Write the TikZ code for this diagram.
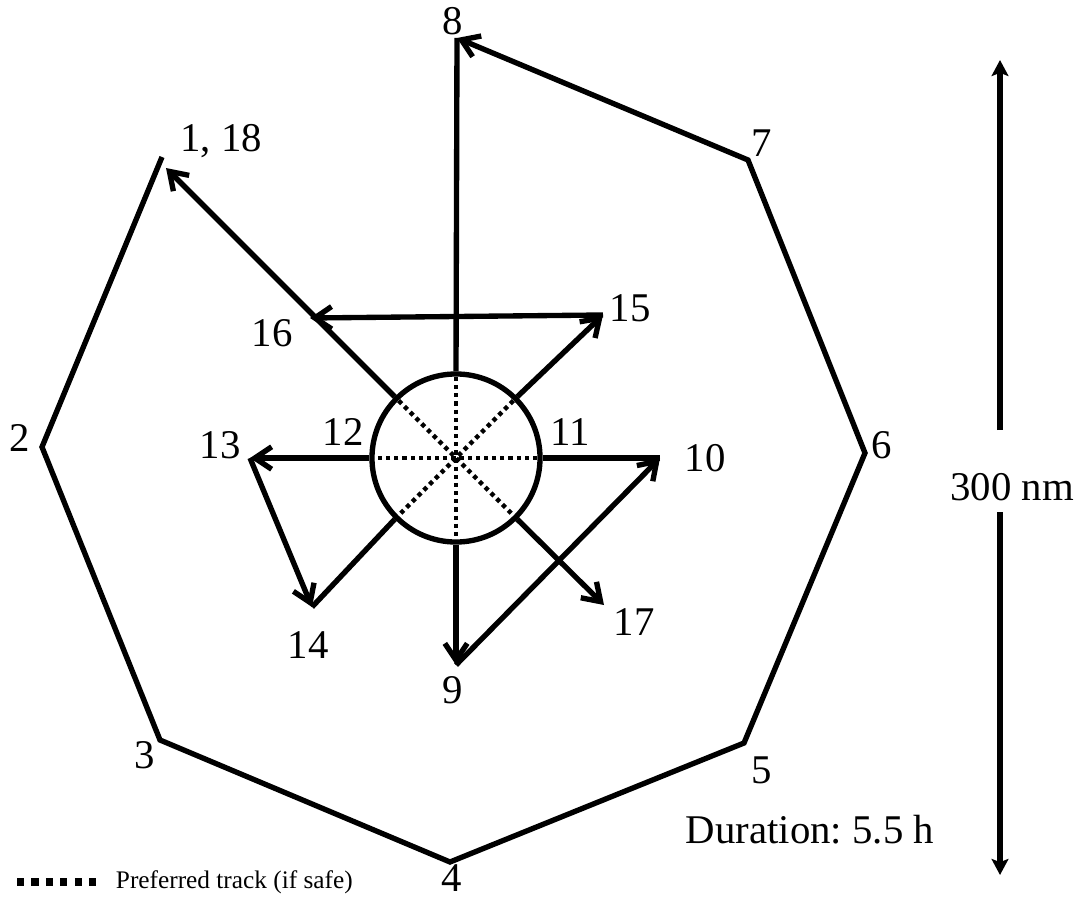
\documentclass[tikz,border=0pt]{standalone}
\usepackage{fontspec}
\setmainfont{Liberation Serif}
\usetikzlibrary{positioning, arrows.meta}

\tikzset{
  track/.style={line width=3.8pt, line cap=butt, line join=miter},
  safetrack/.style={line width=3.2pt, dash pattern=on 3pt off 2.8pt},
  wpt/.style={font=\fontsize{29}{34}\selectfont, inner sep=0pt},
  scalebar/.style={line width=3.8pt, -{Stealth[length=4mm, width=4.2mm, inset=0.8mm]}},
  >={Straight Barb[length=4.2mm, width=5.6mm]}
}

\begin{document}
\frenchspacing
\begin{tikzpicture}[x=0.025cm, y=-0.025cm]
        \useasboundingbox (0,0) rectangle (1079,900);
        % Waypoints of the outer octagon
        \coordinate (p1) at (162,157);
        \coordinate (p2) at (42,447);
        \coordinate (p3) at (160,740);
        \coordinate (p4) at (450,862);
        \coordinate (p5) at (744,743);
        \coordinate (p6) at (865,453);
        \coordinate (p7) at (748,160);
        \coordinate (p8) at (457,38);
        % Waypoints of the inner star
        \coordinate (p9) at (456,665);
        \coordinate (p10) at (660,458);
        \coordinate (p13) at (250,458);
        \coordinate (p14) at (312,607);
        \coordinate (p15) at (603,315);
        \coordinate (p16) at (310,318);
        \coordinate (p17) at (604,605);
        \coordinate (p18) at (166,168);
        % Centre circle
        \node[circle, draw, line width=3.8pt, minimum size=4.2cm, inner sep=0pt] (ring) at (456,458) {};
        % Outer octagon
        \draw[track, ->] (p1) -- (p2) -- (p3) -- (p4) -- (p5) -- (p6) -- (p7) -- (p8);
        % Legs through the centre
        \draw[track] (p8) -- (ring.north);
        \draw[track, ->] (ring.south) -- (p9);
        \draw[track, ->] (p9) -- (p10);
        \draw[track] (p10) -- (ring.east);
        \draw[track, ->] (ring.west) -- (p13);
        \draw[track, ->] (p13) -- (p14);
        \draw[track] (p14) -- (ring.south west);
        \draw[track, ->] (ring.north east) -- (p15);
        \draw[track, ->] (p15) -- (p16);
        \draw[track, ->] (ring.south east) -- (p17);
        \draw[track, ->] (ring.north west) -- (p18);
        % Preferred track inside the circle
        \foreach \a/\b in {north/south, east/west, north east/south west, north west/south east} {
          \draw[safetrack, shorten <=4pt, shorten >=4pt] (ring.\a) -- (ring.\b);
        }
        % Waypoint labels
        \node[wpt] (l8) at (453,21) {8};
        \node[wpt] (l1) at (221,141) {1, 18};
        \node[wpt] (l2) at (20,438) {2};
        \node[wpt] (l3) at (145,755) {3};
        \node[wpt] (l4) at (452,878) {4};
        \node[wpt] (l5) at (762,770) {5};
        \node[wpt] (l6) at (882,445) {6};
        \node[wpt] (l7) at (762,143) {7};
        \node[wpt] (l9) at (453,690) {9};
        \node[wpt] (l10) at (705,458) {10};
        \node[wpt] (l11) at (570,432) {11};
        \node[wpt] (l12) at (343,432) {12};
        \node[wpt] (l13) at (220,445) {13};
        \node[wpt] (l14) at (308,645) {14};
        \node[wpt] (l15) at (630,308) {15};
        \node[wpt] (l16) at (272,333) {16};
        \node[wpt] (l17) at (634,622) {17};
        % Scale bar
        \node[wpt] (scale) at (1012,487) {300 nm};
        \coordinate (bartop) at (1000,60);
        \coordinate (barbot) at (1000,875);
        \coordinate (gaptop) at (1000,430);
        \coordinate (gapbot) at (1000,512);
        \draw[scalebar] (gaptop) -- (bartop);
        \draw[scalebar] (gapbot) -- (barbot);
        % Duration and legend
        \node[wpt] (dur) at (810,830) {Duration: 5.5 h};
        \coordinate (lega) at (17,882);
        \coordinate (legb) at (103,882);
        \draw[line width=5pt, dash pattern=on 5pt off 5.3pt] (lega) -- (legb);
        \node[font=\fontsize{18}{22}\selectfont, inner sep=0pt, right=9pt of legb] (legtxt) {Preferred track (if safe)};
      \end{tikzpicture}
\end{document}
